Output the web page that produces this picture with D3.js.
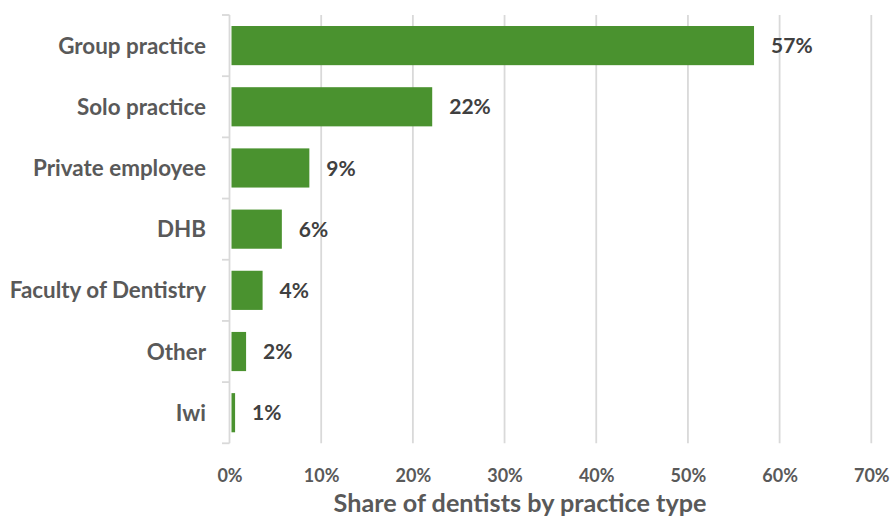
<!DOCTYPE html>
<html>
<head>
<meta charset="utf-8">
<script src="https://cdn.jsdelivr.net/npm/d3@7"></script>
<style>
  html, body { margin: 0; padding: 0; background: #ffffff; }
  svg { display: block; }
</style>
</head>
<body>
<svg id="chart" width="893" height="517"></svg>
<script>
// Practice types and the share of dentists in each (percent)
const categories = ["Group practice", "Solo practice", "Private employee", "DHB", "Faculty of Dentistry", "Other", "Iwi"];
const shares = [57.1, 22.0, 8.6, 5.6, 3.5, 1.7, 0.5];
const tickValues = [0, 10, 20, 30, 40, 50, 60, 70];
const axisTitle = "Share of dentists by practice type";

const data = categories.map((c, i) => ({ category: c, value: shares[i] }));

const svg = d3.select("#chart");
const margin = { top: 15, left: 229.5 };
const plotW = 641.8;
const plotH = 428.3;

const g = svg.append("g").attr("transform", `translate(${margin.left},${margin.top})`);

const x = d3.scaleLinear().domain([0, 70]).range([0, plotW]);
const y = d3.scaleBand().domain(categories).range([0, plotH]).paddingInner(0.36).paddingOuter(0.18);

const fontFamily = "Lato, 'Open Sans', sans-serif";
const gridColor = "#d9d9d9";

// Vertical gridlines
g.append("g")
  .selectAll("line")
  .data(tickValues.filter(t => t > 0))
  .join("line")
  .attr("x1", d => x(d)).attr("x2", d => x(d))
  .attr("y1", 0).attr("y2", plotH)
  .attr("stroke", gridColor)
  .attr("stroke-width", 1.8);

// Bottom axis: labels only
const xAxis = g.append("g")
  .attr("transform", `translate(0,${plotH})`)
  .call(d3.axisBottom(x).tickValues(tickValues).tickFormat(d => d + "%").tickSize(0).tickPadding(26));
xAxis.select(".domain").remove();
xAxis.selectAll("text")
  .attr("fill", "#595959")
  .style("font-family", fontFamily)
  .style("font-weight", "700")
  .style("font-size", "18px");

// Category axis line with boundary ticks
const bounds = d3.range(categories.length + 1).map(i => i * plotH / categories.length);
g.append("line")
  .attr("x1", 0).attr("x2", 0).attr("y1", 0).attr("y2", plotH)
  .attr("stroke", gridColor).attr("stroke-width", 1.8);
g.append("g")
  .selectAll("line")
  .data(bounds)
  .join("line")
  .attr("x1", -7.5).attr("x2", 0)
  .attr("y1", d => d).attr("y2", d => d)
  .attr("stroke", gridColor).attr("stroke-width", 1.8);

// Category labels
g.append("g")
  .selectAll("text")
  .data(categories)
  .join("text")
  .attr("x", -23.5)
  .attr("y", d => y(d) + y.bandwidth() / 2)
  .attr("dy", "0.36em")
  .attr("text-anchor", "end")
  .attr("fill", "#595959")
  .style("font-family", fontFamily)
  .style("font-weight", "700")
  .style("font-size", "22.4px")
  .text(d => d);

// Bars
g.append("g")
  .selectAll("rect")
  .data(data)
  .join("rect")
  .attr("x", 2)
  .attr("y", d => y(d.category))
  .attr("width", d => Math.max(0, x(d.value) - 1))
  .attr("height", y.bandwidth())
  .attr("fill", "#4a922f");

// Value labels
g.append("g")
  .selectAll("text")
  .data(data)
  .join("text")
  .attr("x", d => x(d.value) + 18)
  .attr("y", d => y(d.category) + y.bandwidth() / 2)
  .attr("dy", "0.36em")
  .attr("fill", "#404040")
  .style("font-family", fontFamily)
  .style("font-weight", "700")
  .style("font-size", "21px")
  .text(d => Math.round(d.value) + "%");

// Axis title
svg.append("text")
  .attr("x", 520)
  .attr("y", 512)
  .attr("text-anchor", "middle")
  .attr("fill", "#595959")
  .style("font-family", fontFamily)
  .style("font-weight", "700")
  .style("font-size", "25.2px")
  .text(axisTitle);
</script>
</body>
</html>
